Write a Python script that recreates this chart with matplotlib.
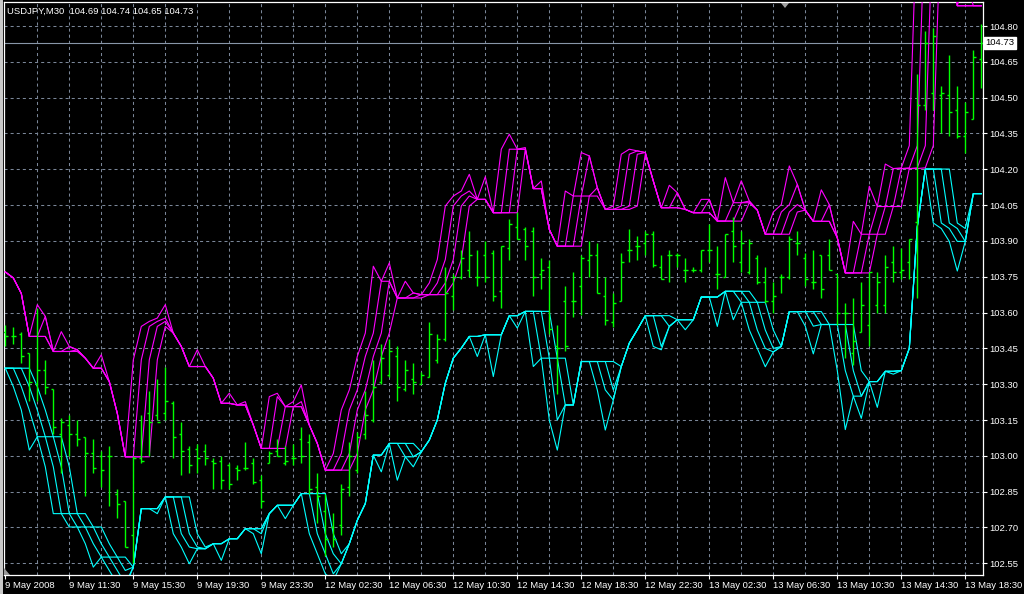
import numpy as np
import pandas as pd
import matplotlib
matplotlib.use("Agg")
import matplotlib.pyplot as plt
from matplotlib.patches import Rectangle, Polygon

plt.rcParams['font.family'] = ['Liberation Sans', 'DejaVu Sans']
plt.rcParams['lines.scale_dashes'] = False

# OHLC of the 30-minute bars, oldest first
opens = [103.52, 103.50, 103.51, 103.43, 103.30, 103.36, 103.28, 103.09, 103.13, 103.09,
         103.08, 103.01, 103.00, 103.00, 102.84, 102.81, 102.67, 102.99, 103.18, 103.17,
         103.18, 103.22, 103.09, 103.03, 103.03, 103.02, 102.98, 102.98, 102.96, 102.95,
         102.95, 102.97, 102.90, 102.97, 103.02, 102.97, 102.99, 103.07, 103.06, 102.87,
         102.77, 102.70, 102.71, 102.87, 102.94, 103.09, 103.15, 103.31, 103.34, 103.42,
         103.28, 103.32, 103.30, 103.33, 103.40, 103.49, 103.67, 103.75, 103.78, 103.75,
         103.84, 103.85, 103.69, 103.87, 103.96, 103.95, 103.94, 103.76, 103.79, 103.46,
         103.65, 103.65, 103.71, 103.82, 103.84, 103.67, 103.56, 103.65, 103.86, 103.88,
         103.89, 103.93, 103.79, 103.84, 103.84, 103.78, 103.78, 103.78, 103.86, 103.76,
         103.75, 103.94, 103.81, 103.77, 103.83, 103.73, 103.65, 103.75, 103.75, 103.89,
         103.83, 103.73, 103.84, 103.84, 103.76, 103.60, 103.43, 103.52, 103.55, 103.63,
         103.63, 103.81, 103.77, 103.81, 103.98, 104.47, 104.52, 104.51, 104.51, 104.45,
         104.34, 104.41, 104.66]
highs = [103.55, 103.54, 103.52, 103.43, 103.62, 103.40, 103.28, 103.16, 103.17, 103.15,
         103.08, 103.07, 103.02, 103.04, 102.86, 102.81, 103.00, 103.17, 103.27, 103.32,
         103.37, 103.23, 103.14, 103.04, 103.05, 103.05, 102.99, 103.00, 102.97, 102.96,
         103.06, 102.99, 102.92, 103.02, 103.07, 103.04, 103.05, 103.12, 103.09, 102.93,
         102.84, 102.76, 102.88, 103.06, 103.10, 103.27, 103.40, 103.47, 103.49, 103.46,
         103.40, 103.39, 103.35, 103.56, 103.51, 103.79, 103.76, 103.86, 103.94, 103.86,
         103.90, 103.86, 103.88, 103.99, 104.02, 103.96, 103.96, 103.83, 103.82, 103.55,
         103.71, 103.77, 103.84, 103.90, 103.89, 103.75, 103.68, 103.85, 103.95, 103.92,
         103.94, 103.94, 103.84, 103.86, 103.85, 103.83, 103.79, 103.86, 103.97, 103.88,
         103.93, 104.00, 103.94, 103.91, 103.84, 103.79, 103.73, 103.76, 103.92, 103.94,
         103.85, 103.86, 103.84, 103.91, 103.76, 103.64, 103.66, 103.73, 103.77, 103.77,
         103.84, 103.88, 103.87, 103.91, 104.60, 104.78, 104.79, 104.55, 104.68, 104.55,
         104.48, 104.70, 104.81]
lows = [103.46, 103.47, 103.39, 103.23, 103.23, 103.26, 103.09, 102.93, 103.00, 103.04,
        102.83, 102.93, 102.87, 102.79, 102.74, 102.62, 102.55, 102.97, 103.00, 103.15,
        103.15, 102.99, 102.92, 102.93, 102.93, 102.96, 102.86, 102.86, 102.86, 102.90,
        102.94, 102.88, 102.78, 102.97, 103.00, 102.96, 102.96, 102.97, 102.84, 102.72,
        102.58, 102.62, 102.67, 102.83, 102.93, 103.07, 103.14, 103.30, 103.33, 103.23,
        103.27, 103.26, 103.30, 103.33, 103.39, 103.48, 103.61, 103.74, 103.75, 103.71,
        103.73, 103.65, 103.62, 103.82, 103.91, 103.82, 103.67, 103.70, 103.51, 103.26,
        103.44, 103.58, 103.59, 103.75, 103.68, 103.55, 103.54, 103.65, 103.81, 103.82,
        103.84, 103.79, 103.74, 103.73, 103.79, 103.73, 103.77, 103.77, 103.81, 103.70,
        103.75, 103.81, 103.77, 103.76, 103.72, 103.64, 103.60, 103.68, 103.74, 103.84,
        103.71, 103.70, 103.66, 103.78, 103.55, 103.41, 103.38, 103.52, 103.46, 103.60,
        103.60, 103.73, 103.74, 103.74, 103.66, 104.45, 104.45, 104.35, 104.34, 104.33,
        104.27, 104.41, 104.54]
closes = [103.50, 103.50, 103.42, 103.31, 103.36, 103.29, 103.12, 103.14, 103.09, 103.07,
          103.01, 102.95, 102.94, 103.00, 102.80, 102.62, 102.99, 102.98, 103.14, 103.14,
          103.23, 103.08, 103.02, 102.96, 102.99, 102.99, 102.97, 102.90, 102.88, 102.94,
          102.95, 102.89, 102.81, 103.01, 103.00, 102.98, 102.99, 103.00, 102.86, 102.83,
          102.65, 102.65, 102.86, 103.00, 103.08, 103.17, 103.29, 103.41, 103.44, 103.29,
          103.36, 103.31, 103.34, 103.51, 103.49, 103.68, 103.75, 103.83, 103.84, 103.75,
          103.75, 103.67, 103.88, 103.97, 103.91, 103.88, 103.75, 103.78, 103.53, 103.45,
          103.46, 103.65, 103.83, 103.84, 103.68, 103.57, 103.64, 103.81, 103.86, 103.88,
          103.93, 103.80, 103.74, 103.84, 103.84, 103.78, 103.78, 103.86, 103.86, 103.76,
          103.93, 103.88, 103.89, 103.89, 103.73, 103.65, 103.67, 103.75, 103.91, 103.89,
          103.74, 103.73, 103.70, 103.78, 103.60, 103.60, 103.48, 103.63, 103.77, 103.73,
          103.79, 103.77, 103.78, 103.91, 104.47, 104.73, 104.76, 104.52, 104.44, 104.34,
          104.44, 104.67, 104.73]

# base of the upper (magenta) and lower (cyan) channel, one value per bar
upper = [103.77, 103.745, 103.68, 103.50, 103.633, 103.584, 103.437, 103.52, 103.458, 103.444,
         103.409, 103.367, 103.423, 103.311, 103.178, 102.996, 103.402, 103.542, 103.563, 103.577,
         103.633, 103.514, 103.458, 103.374, 103.444, 103.374, 103.325, 103.22, 103.262, 103.213,
         103.227, 103.129, 103.031, 103.248, 103.262, 103.206, 103.227, 103.297, 103.129, 103.052,
         102.94, 103.01, 103.192, 103.276, 103.416, 103.514, 103.794, 103.731, 103.808, 103.661,
         103.731, 103.682, 103.675, 103.724, 103.822, 104.046, 104.088, 104.109, 104.179, 104.074,
         104.169, 104.018, 104.284, 104.347, 104.284, 104.291, 104.119, 104.151, 103.948, 103.878,
         104.109, 104.088, 104.27, 104.256, 104.123, 104.032, 104.046, 104.263, 104.284, 104.277,
         104.27, 104.151, 104.039, 104.133, 104.102, 104.032, 104.018, 104.074, 104.074, 103.983,
         104.165, 104.06, 104.152, 104.067, 104.029, 103.928, 104.021, 104.052, 104.214, 104.137,
         104.029, 103.982, 104.114, 104.052, 103.913, 103.766, 103.982, 103.928, 104.129, 104.044,
         104.222, 104.203, 104.206, 104.299, 105.3, 105.4, 105.5, 105.5, 105.3, 104.885,
         105.0, 104.885, 104.885]
lower = [103.367, 103.29, 103.192, 103.024, 103.08, 102.954, 102.758, 102.758, 102.702, 102.702,
         102.632, 102.534, 102.576, 102.52, 102.464, 102.45, 102.534, 102.779, 102.779, 102.758,
         102.828, 102.674, 102.618, 102.548, 102.611, 102.611, 102.632, 102.562, 102.653, 102.653,
         102.695, 102.674, 102.59, 102.758, 102.793, 102.737, 102.793, 102.842, 102.674, 102.59,
         102.506, 102.478, 102.548, 102.632, 102.73, 102.80, 103.003, 102.933, 103.052, 102.898,
         102.996, 102.954, 103.017, 103.066, 103.15, 103.304, 103.409, 103.451, 103.50, 103.416,
         103.507, 103.332, 103.507, 103.587, 103.535, 103.605, 103.374, 103.409, 103.15, 103.024,
         103.213, 103.213, 103.395, 103.395, 103.276, 103.108, 103.234, 103.374, 103.472, 103.528,
         103.587, 103.458, 103.444, 103.542, 103.57, 103.528, 103.57, 103.665, 103.665, 103.542,
         103.689, 103.57, 103.643, 103.527, 103.45, 103.373, 103.435, 103.458, 103.604, 103.604,
         103.543, 103.427, 103.55, 103.55, 103.357, 103.11, 103.25, 103.157, 103.311, 103.203,
         103.354, 103.342, 103.357, 103.45, 103.959, 104.201, 103.975, 103.952, 103.898, 103.774,
         103.898, 104.098, 104.098]

time_labels = ['9 May 2008', '9 May 11:30', '9 May 15:30', '9 May 19:30', '9 May 23:30',
               '12 May 02:30', '12 May 06:30', '12 May 10:30', '12 May 14:30', '12 May 18:30',
               '12 May 22:30', '13 May 02:30', '13 May 06:30', '13 May 10:30', '13 May 14:30',
               '13 May 18:30']
price_ticks = [102.55, 102.70, 102.85, 103.00, 103.15, 103.30, 103.45, 103.60, 103.75,
               103.90, 104.05, 104.20, 104.35, 104.50, 104.65, 104.80]
bid = 104.73
title = 'USDJPY,M30  104.69 104.74 104.65 104.73'

GRID = '#7a8698'
W, H = 1024, 594
fig = plt.figure(figsize=(W / 100, H / 100), dpi=100, facecolor='black')
# plot area in pixels: x 4..982.5, y 2..575
ax = fig.add_axes([4 / W, (H - 575) / H, (982.5 - 4) / W, (575 - 2) / H])
ax.set_facecolor('black')

n = len(opens)
x = np.arange(n)
ax.set_xlim((4 - 5.3) / 8, (982.5 - 5.3) / 8)
ax.set_ylim(104.80 - 549 / 238.8, 104.80 + 24 / 238.8)

# dashed grid
for gx in range(4, n, 4):
    ax.axvline(gx, color=GRID, lw=0.75, ls=(0, (2.2, 2.2)), zorder=1)
for gy in price_ticks:
    ax.axhline(gy, color=GRID, lw=0.75, ls=(0, (2.2, 2.2)), zorder=1)

# channel lines: four copies with growing look-back
up = pd.Series(upper)
lo = pd.Series(lower)
for k in range(4):
    ax.plot(x, up.rolling(k + 1, min_periods=1).min(), color='#ff00ff', lw=0.8, zorder=3)
    ax.plot(x, lo.rolling(k + 1, min_periods=1).max(), color='#00ffff', lw=0.8, zorder=3)

# OHLC bars
tw = 0.33
ax.vlines(x, lows, highs, color='#00ff00', lw=1.0, zorder=4, snap=True)
ax.hlines(opens, x - tw, x, color='#00ff00', lw=1.0, zorder=4, snap=True)
ax.hlines(closes, x, x + tw, color='#00ff00', lw=1.0, zorder=4, snap=True)

# bid line
ax.axhline(bid, color='#8896a8', lw=0.8, zorder=2)

for s in ['top', 'right', 'bottom', 'left']:
    ax.spines[s].set_color('white')
    ax.spines[s].set_linewidth(0.9)

ax.yaxis.tick_right()
ax.set_yticks(price_ticks)
ax.set_yticklabels(['%.2f' % v for v in price_ticks])
ax.tick_params(axis='y', colors='white', labelcolor='white', length=3, width=0.8,
               pad=2, labelsize=6.8)
ax.set_xticks(range(0, n, 8))
ax.set_xticklabels(time_labels, ha='left')
ax.tick_params(axis='x', colors='white', labelcolor='white', length=3, width=0.8,
               pad=1.5, labelsize=6.8)

# bid label box
ax.text(1.0 + 3 / 978.5, bid, '%.2f' % bid, transform=ax.get_yaxis_transform(),
        color='black', fontsize=6.8, va='center', ha='left',
        bbox=dict(boxstyle='square,pad=0.15', fc='white', ec='white'))

fig.text(7 / W, 1 - 11 / H, title, color='white', fontsize=6.8, va='center', ha='left')

# left window border and small grey markers
fig.patches.append(Rectangle((0, 0), 3 / W, 1, transform=fig.transFigure,
                             facecolor='#c8c8c8', edgecolor='none'))
fig.patches.append(Polygon([(4 / W, (H - 575) / H), (10 / W, (H - 575) / H),
                            (4 / W, (H - 568) / H)], closed=True,
                           transform=fig.transFigure, facecolor='#9a9a9a', edgecolor='none'))
fig.patches.append(Polygon([(781 / W, 1 - 3 / H), (789 / W, 1 - 3 / H), (785 / W, 1 - 8 / H)],
                           closed=True, transform=fig.transFigure,
                           facecolor='#a0a0a0', edgecolor='none'))

fig.savefig('out.png', dpi=100, facecolor='black')
